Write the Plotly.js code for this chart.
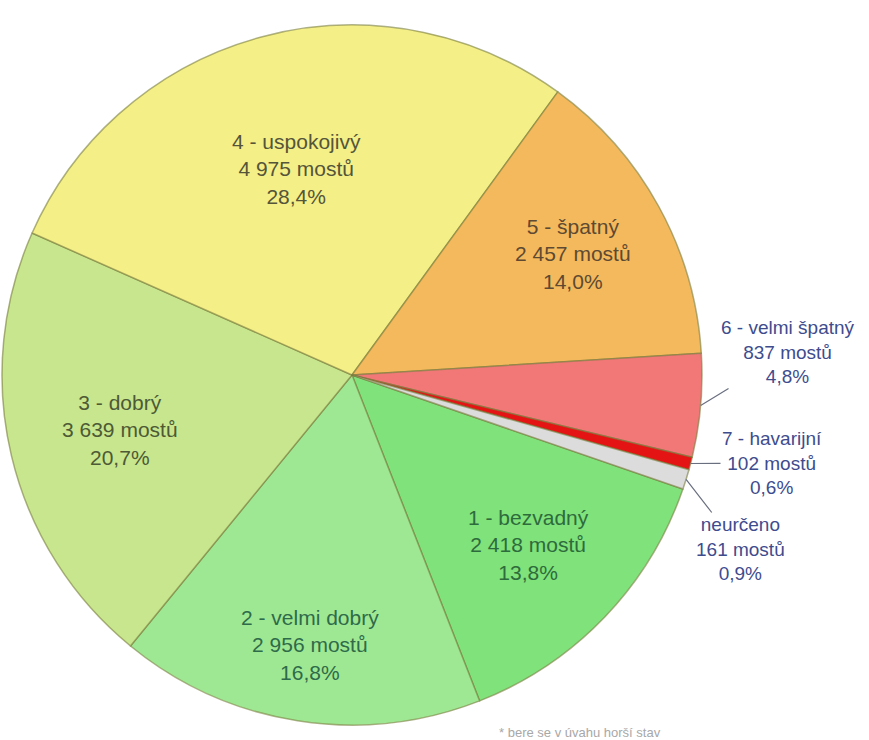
<!DOCTYPE html>
<html><head><meta charset="utf-8">
<script src="https://cdn.plot.ly/plotly-3.0.1.min.js"></script>
<style>html,body{margin:0;padding:0;background:#fff}#chart{width:869px;height:740px}</style>
</head><body><div id="chart"></div>
<script>
const labels = ["1 - bezvadný","2 - velmi dobrý","3 - dobrý","4 - uspokojivý","5 - špatný","6 - velmi špatný","7 - havarijní","neurčeno"];
const counts = [2418, 2956, 3639, 4975, 2457, 837, 102, 161];
const colors = ["#7fe27b","#9fe893","#c8e68e","#f4ef87","#f4b95c","#f27878","#e41414","#dcdcdc"];
const textColors = ["#2e6b3c","#2e6b4a","#4d5a35","#55553a","#5e4a32","#3e4c8e","#3e4c8e","#3e4c8e"];
const footnote = "* bere se v úvahu horší stav";

const W = 869, H = 740;
const cx = 352, cy = 375, R = 350;
const rotation = 109;
const labelR = [0.70, 0.78, 0.68, 0.61, 0.72];
// outside label text centres (px)
const outPos = {5: [788, 352], 6: [772, 463], 7: [740, 549]};

const total = counts.reduce((a, b) => a + b, 0);
function fmtInt(n){ return String(n).replace(/\B(?=(\d{3})+(?!\d))/g, " "); }
function fmtPct(v){ return (100 * v / total).toFixed(1).replace(".", ",") + "%"; }

const annotations = [];
let cum = 0;
counts.forEach((v, i) => {
  const mid = rotation + (cum + v / 2) / total * 360;
  cum += v;
  const a = mid * Math.PI / 180;
  const dx = Math.sin(a), dy = -Math.cos(a);
  const txt = labels[i] + "<br>" + fmtInt(v) + " mostů<br>" + fmtPct(v);
  if (i < 5) {
    const px = cx + labelR[i] * R * dx, py = cy + labelR[i] * R * dy;
    annotations.push({x: px / W, y: 1 - py / H, xref: "paper", yref: "paper", xanchor: "center", yanchor: "middle",
      text: txt, showarrow: false,
      font: {family: "Liberation Sans, Arial, sans-serif", size: 21, color: textColors[i]}, align: "center"});
  } else {
    const ex = cx + R * dx, ey = cy + R * dy;
    const p = outPos[i];
    annotations.push({x: ex / W, y: 1 - ey / H, xref: "paper", yref: "paper",
      ax: p[0] / W, ay: 1 - p[1] / H, axref: "paper", ayref: "paper", xanchor: "center", yanchor: "middle",
      text: txt, showarrow: true, arrowhead: 0, arrowwidth: 1.2, arrowcolor: "#6a6f80", standoff: 0,
      font: {family: "Liberation Sans, Arial, sans-serif", size: 19, color: textColors[i]}, align: "center"});
  }
});
annotations.push({x: 580 / W, y: 1 - 732 / H, xref: "paper", yref: "paper", xanchor: "center", yanchor: "middle",
  text: footnote, showarrow: false,
  font: {family: "Liberation Sans, Arial, sans-serif", size: 13, color: "#a8a8a8"}});

const trace = {
  type: "pie", labels: labels, values: counts, sort: false, direction: "clockwise", rotation: rotation,
  marker: {colors: colors, line: {color: "rgba(120,125,60,0.6)", width: 1.5}},
  textinfo: "none", hoverinfo: "label+value+percent",
  domain: {x: [(cx - R) / W, (cx + R) / W], y: [1 - (cy + R) / H, 1 - (cy - R) / H]}
};
Plotly.newPlot("chart", [trace], {
  width: W, height: H, margin: {l: 0, r: 0, t: 0, b: 0}, showlegend: false,
  paper_bgcolor: "#fff", annotations: annotations
}, {displayModeBar: false, staticPlot: true});
</script></body></html>
